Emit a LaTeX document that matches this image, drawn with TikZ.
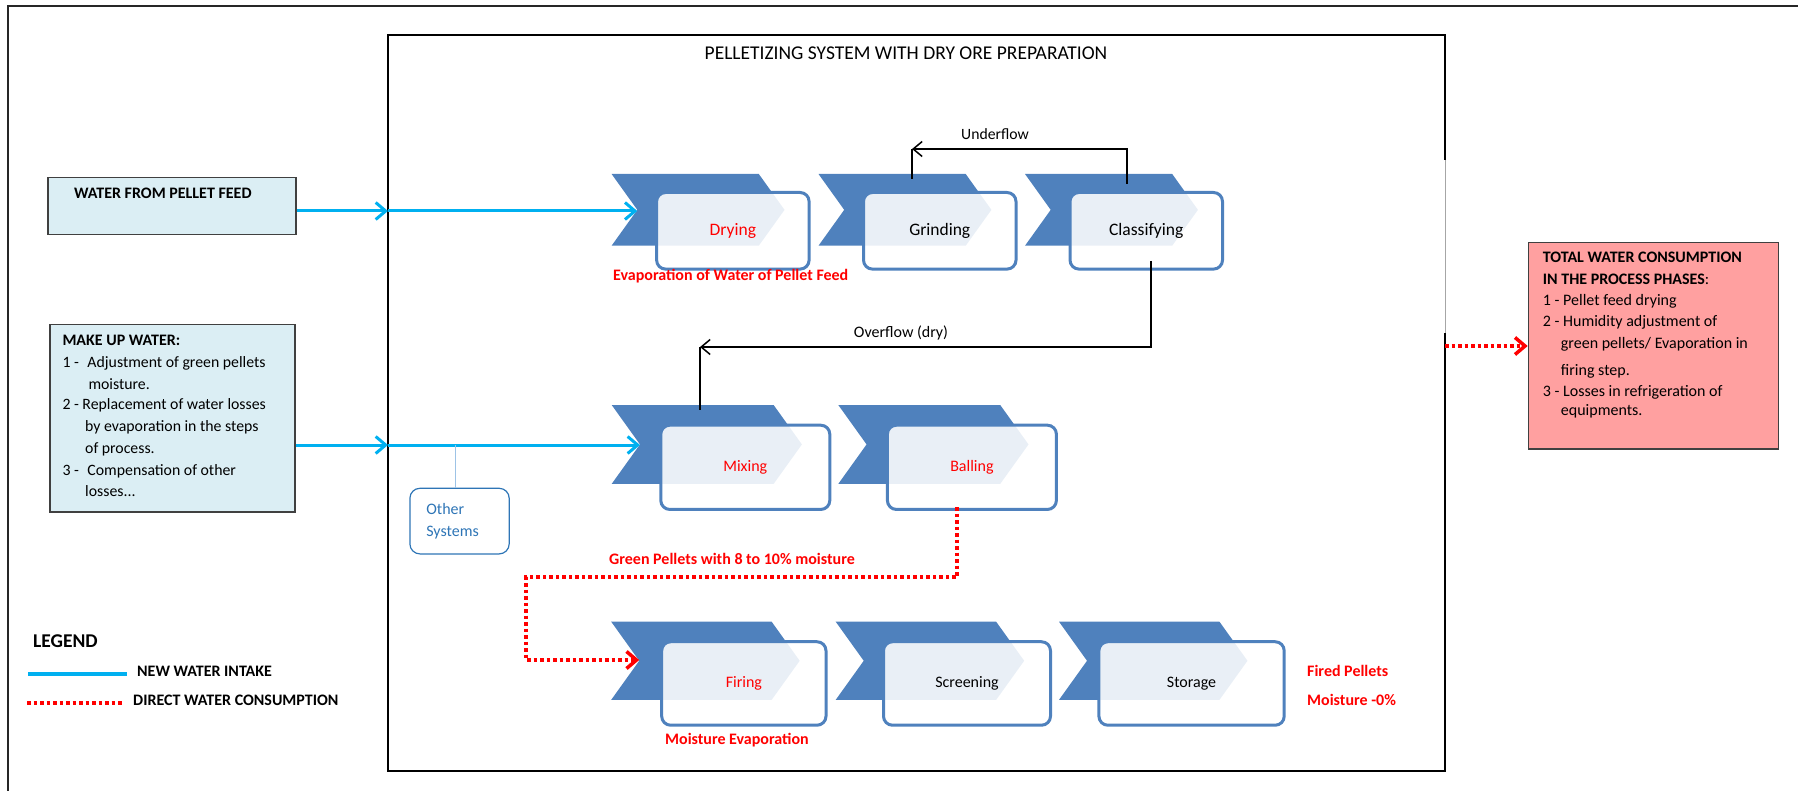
\documentclass[tikz,border=0pt]{standalone}
\usepackage{fontspec}
\setmainfont{Carlito}
\usetikzlibrary{arrows.meta}
\definecolor{chevblue}{HTML}{4F81BD}
\definecolor{waterblue}{HTML}{00B0F0}
\definecolor{aquafill}{HTML}{DBEEF4}
\definecolor{pinkfill}{HTML}{FFA0A0}
\definecolor{osblue}{HTML}{2E75B6}
\definecolor{oslight}{HTML}{9DC3E6}
\definecolor{pred}{HTML}{FF0000}
\newcommand\fsA{\fontsize{17.5}{21}\selectfont}
\newcommand\fsB{\fontsize{16}{19}\selectfont}
\newcommand\fsR{\fontsize{15.8}{19}\selectfont}
\newcommand\fsBold{\fontsize{16}{19}\selectfont\bfseries}
\newcommand{\mkstage}[8]{%
  \fill[chevfill] (#2,#3) -- ++({147.2*#4},0) -- ++({25.7*#4},{35.85*#4}) -- ++({-25.7*#4},{35.85*#4}) -- ++({-147.2*#4},0) -- ++({25.7*#4},{-35.85*#4}) -- cycle;
  \coordinate (#1-notch) at ({#2+25.7*#4},{#3+35.85*#4});
  \node[stagebox, minimum width=#6, minimum height={76.6*#4}, anchor=north west, #7] (#1) at ({#2+#5},{#3+17*#4}) {#8};
}
\tikzset{
  chevfill/.style={fill=chevblue},
  stagebox/.style={draw=chevblue, line width=3pt, rounded corners=9pt, fill=white, fill opacity=0.88, text opacity=1, inner sep=0pt},
  bluearrow/.style={draw=waterblue, line width=3pt, -{Straight Barb[length=10pt,width=17pt]}},
  blackarrow/.style={draw=black, line width=1.5pt, -{Straight Barb[length=9pt,width=15pt]}},
  blackline/.style={draw=black, line width=1.5pt},
  reddot/.style={draw=pred, line width=3.5pt, dash pattern=on 3.5pt off 3pt},
  reddotarrow/.style={reddot, -{Straight Barb[length=10pt,width=17pt]}},
  waterbox/.style={draw=black!75, line width=1.5pt, fill=aquafill, inner sep=0pt},
  pinkbox/.style={draw=black!75, line width=1.2pt, fill=pinkfill, inner sep=0pt},
  osbox/.style={draw=osblue, line width=1.2pt, rounded corners=10pt, text=osblue, align=left, font=\fsB},
  osline/.style={draw=oslight, line width=1pt},
  lbl/.style={anchor=mid west, inner sep=0pt},
  redlbl/.style={text=pred, font=\fsBold, inner sep=0pt},
}
\begin{document}
\begin{tikzpicture}[x=1pt,y=-1pt]
\useasboundingbox (0,0) rectangle (1798,791);
% outer frame
\draw[line width=2pt, black!85] (8,791) -- (8,6) -- (1798,6);
% inner frame
\draw[line width=2.5pt] (1445,160) -- (1445,35) -- (388,35) -- (388,771) -- (1445,771) -- (1445,333);
\draw[line width=1pt, black!35] (1445,160) -- (1445,333);
\node[font=\fontsize{19.5}{23}\selectfont, inner sep=0pt] (title) at (906,53) {PELLETIZING SYSTEM WITH DRY ORE PREPARATION};

% stages
\mkstage{dry}{611.6}{174}{1}{43.5}{152.5}{text=pred,font=\fsA}{Drying}
\mkstage{grd}{818.5}{174}{1}{43.5}{152.5}{font=\fsA}{Grinding}
\mkstage{cls}{1025}{174}{1}{43.5}{152.5}{font=\fsA}{Classifying}
\mkstage{mix}{611.7}{405}{1.1}{47.6}{169}{text=pred,font=\fsB}{Mixing}
\mkstage{bal}{838.3}{405}{1.1}{47.6}{169}{text=pred,font=\fsB}{Balling}
\mkstage{fir}{611.2}{621.7}{1.09}{49}{164.3}{text=pred,font=\fsB}{Firing}
\mkstage{scr}{835.7}{621.7}{1.09}{46.3}{167}{font=\fsB}{Screening}
\mkstage{sto}{1059}{621.7}{1.09}{38.4}{185.3}{font=\fsB}{Storage}

% left boxes
\node[waterbox, minimum width=248, minimum height=57, anchor=north west] (wpf) at (47,177) {};
\node[lbl, font=\fsBold] (wpft) at (74,196) {WATER FROM PELLET FEED};

\node[waterbox, minimum width=245, minimum height=187, anchor=north west] (mk) at (49,324) {};
\node[lbl, font=\fsBold] (mk1) at (62.3,343) {MAKE UP WATER:};
\node[lbl, font=\fsR] (mk2) at (62.3,365) {\makebox[25pt][l]{1 -}Adjustment of green pellets};
\node[lbl, font=\fsR] (mk3) at (88.3,387) {moisture.};
\node[lbl, font=\fsR] (mk4) at (62.3,407) {2 - Replacement of water losses};
\node[lbl, font=\fsR] (mk5) at (85,429) {by evaporation in the steps};
\node[lbl, font=\fsR] (mk6) at (85,451) {of process.};
\node[lbl, font=\fsR] (mk7) at (62.3,473) {\makebox[25pt][l]{3 -}Compensation of other};
\node[lbl, font=\fsR] (mk8) at (85,494) {losses...};

% other systems
\node[osbox, minimum width=99.3, minimum height=65.6, text width=66.5, inner xsep=16.4pt, inner ysep=0pt, anchor=north west] (os) at (409.3,487.7) {Other\\[2.7pt]Systems};

% right box
\node[pinkbox, minimum width=250, minimum height=206.6, anchor=north west] (tot) at (1527.7,241.7) {};
\node[lbl, font=\fsBold] (t1) at (1542.7,260) {TOTAL WATER CONSUMPTION};
\node[lbl, font=\fsB] (t2) at (1542.7,282) {\textbf{IN THE PROCESS PHASES}:};
\node[lbl, font=\fsB] (t3) at (1542.7,303) {1 - Pellet feed drying};
\node[lbl, font=\fsB] (t4) at (1542.7,324) {2 - Humidity adjustment of};
\node[lbl, font=\fsB] (t5) at (1560.7,346) {green pellets/ Evaporation in};
\node[lbl, font=\fsB] (t6) at (1560.7,373) {firing step.};
\node[lbl, font=\fsB] (t7) at (1542.7,394) {3 - Losses in refrigeration of};
\node[lbl, font=\fsB] (t8) at (1560.7,413) {equipments.};

% blue water arrows
\coordinate (ibIn1) at (388,211);
\coordinate (ibIn2) at (388,445);
\draw[bluearrow] (wpf.east |- ibIn1) -- (ibIn1);
\draw[bluearrow] (ibIn1) -- (ibIn1 -| dry-notch);
\draw[bluearrow] (mk.east |- ibIn2) -- (ibIn2);
\draw[bluearrow] (ibIn2) -- (ibIn2 -| mix-notch);
\coordinate (osTap) at (455,445);
\draw[osline] (osTap) -- (osTap |- os.north);

% underflow
\coordinate (clsUp) at (1127,184);
\coordinate (ufTip) at (912,149);
\coordinate (grdUp) at (912,179);
\draw[blackarrow] (clsUp) |- (ufTip);
\draw[blackline] (ufTip) -- (grdUp);
\node[font=\fontsize{15.7}{19}\selectfont, inner sep=0pt, anchor=mid] (uflbl) at (995,137) {Underflow};

% overflow
\coordinate (ofStart) at (1151,261);
\coordinate (ofTip) at (700,347);
\coordinate (mixUp) at (700,410);
\draw[blackarrow] (ofStart) |- (ofTip);
\draw[blackline] (ofTip) -- (mixUp);
\node[font=\fsB, inner sep=0pt, anchor=mid] (oflbl) at (901,335) {Overflow (dry)};

% red dotted green pellets
\coordinate (balDn) at (957,507);
\coordinate (g1) at (957,577);
\coordinate (g2) at (526,577);
\coordinate (g3) at (526,660);
\draw[reddotarrow] (balDn) -- (g1) -- (g2) -- (g3) -- (g3 -| fir-notch);
\node[redlbl, anchor=mid] (gplbl) at (732,562) {Green Pellets with 8 to 10\% moisture};

% red dotted to total box
\coordinate (ibOut) at (1445,346);
\draw[reddotarrow] (ibOut) -- (ibOut -| tot.west);

% red labels
\node[redlbl, anchor=mid west] (evlbl) at (613,278) {Evaporation of Water of Pellet Feed};
\node[redlbl, anchor=mid west] (melbl) at (665,742) {Moisture Evaporation};
\node[redlbl, anchor=mid west] (fplbl) at (1307,674) {Fired Pellets};
\node[redlbl, anchor=mid west] (m0lbl) at (1307,703) {Moisture -0\%};

% legend
\node[lbl, font=\fontsize{19.5}{23}\selectfont\bfseries] (leg) at (33,645) {LEGEND};
\coordinate (lgA) at (28,674);
\coordinate (lgB) at (127,674);
\coordinate (lgC) at (27,703);
\coordinate (lgD) at (124,703);
\draw[draw=waterblue, line width=3.5pt] (lgA) -- (lgB);
\draw[reddot] (lgC) -- (lgD);
\node[lbl, font=\fsBold] (leg1) at (137,674) {NEW WATER INTAKE};
\node[lbl, font=\fsBold] (leg2) at (133,703) {DIRECT WATER CONSUMPTION};
\end{tikzpicture}
\end{document}
